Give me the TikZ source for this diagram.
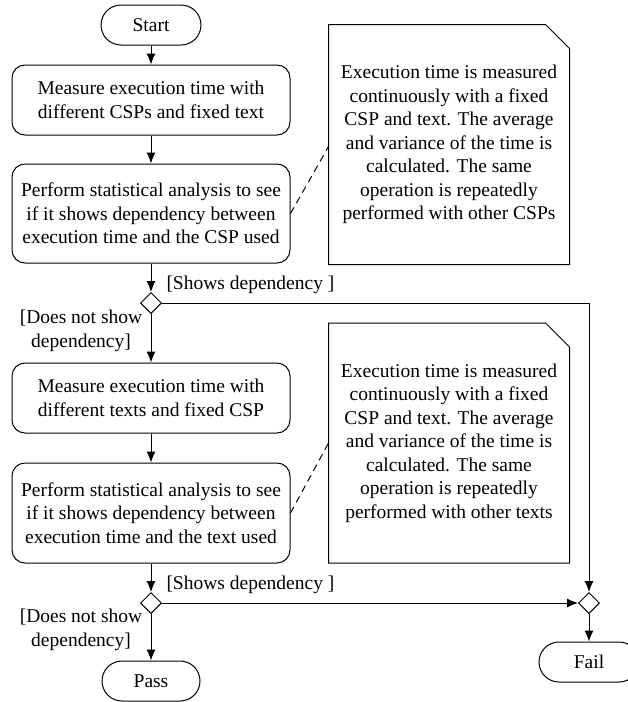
\documentclass[tikz,border=0pt]{standalone}
\usepackage{fontspec}
\setmainfont{Liberation Serif}
\usetikzlibrary{shapes.geometric,arrows.meta}

\begin{document}
\begin{tikzpicture}[x=1pt,y=-1pt,line width=1pt,
		font=\fontsize{19.5}{23.5}\selectfont,
		term/.style={draw, rounded corners=20pt, minimum width=100pt, minimum height=40pt, inner sep=0pt},
		act/.style={draw, rounded corners=13pt, minimum width=278pt, align=center, inner sep=0pt},
		choice/.style={draw, diamond, minimum width=21pt, minimum height=21pt, inner sep=0pt},
		note/.style={minimum width=240pt, minimum height=239pt, align=center, inner sep=0pt},
		guard/.style={inner sep=0pt, align=center},
		flow/.style={-{Latex[length=11pt,width=9pt]}}]

		\useasboundingbox (0,0) rectangle (628,702);

		% first check: CSP
		\node [term] (start) at (151,25) {Start};
		\node [act, minimum height=70pt] (cspmeas) at (151,100) {Measure execution time with\\different CSPs and fixed text};
		\node [act, minimum height=99pt] (cspstat) at (151,213.5) {Perform statistical analysis to see\\if it shows dependency between\\execution time and the CSP used};
		\node [choice] (cspdec) at (151,303) {};
		\node [note] (cspnote) at (449,144.5) {Execution time is measured\\continuously with a fixed\\CSP and text. The average\\and variance of the time is\\calculated. The same\\operation is repeatedly\\performed with other CSPs};

		% second check: text
		\node [act, minimum height=70pt] (txtmeas) at (151,398) {Measure execution time with\\different texts and fixed CSP};
		\node [act, minimum height=100pt] (txtstat) at (151,513) {Perform statistical analysis to see\\if it shows dependency between\\execution time and the text used};
		\node [choice] (txtdec) at (151,603) {};
		\node [note] (txtnote) at (449,443) {Execution time is measured\\continuously with a fixed\\CSP and text. The average\\and variance of the time is\\calculated. The same\\operation is repeatedly\\performed with other texts};

		% end states
		\node [choice] (faildec) at (589,603) {};
		\node [term, minimum width=98pt] (pass) at (151,681) {Pass};
		\node [term] (fail) at (589,662) {Fail};

		% guards
		\node [guard, anchor=base west] (cspyes) at (166,289) {[Shows dependency ]};
		\node [guard] (cspno) at (81,331) {[Does not show\\dependency]};
		\node [guard, anchor=base west] (txtyes) at (166,589) {[Shows dependency ]};
		\node [guard] (txtno) at (81,630) {[Does not show\\dependency]};

		% note outlines with folded corner
		\draw (cspnote.north west) -- ([xshift=-24pt]cspnote.north east) -- ([yshift=-24pt]cspnote.north east) -- (cspnote.south east) -- (cspnote.south west) -- cycle;
		\draw (txtnote.north west) -- ([xshift=-24pt]txtnote.north east) -- ([yshift=-24pt]txtnote.north east) -- (txtnote.south east) -- (txtnote.south west) -- cycle;
		\draw [dash pattern=on 7pt off 5pt] (cspstat.east) -- ([yshift=-2pt]cspnote.west);
		\draw [dash pattern=on 7pt off 5pt] (txtstat.east) -- (txtnote.west);

		% flow
		\draw [flow] (start) -- (cspmeas);
		\draw [flow] (cspmeas) -- (cspstat);
		\draw [flow] (cspstat) -- (cspdec);
		\draw [flow] (cspdec) -- (txtmeas);
		\draw [flow] (txtmeas) -- (txtstat);
		\draw [flow] (txtstat) -- (txtdec);
		\draw [flow] (txtdec) -- (pass);
		\draw [flow] (cspdec.east) -| (faildec.north);
		\draw [flow] (txtdec.east) -- (faildec.west);
		\draw [flow] (faildec) -- (fail);

		\end{tikzpicture}
\end{document}
